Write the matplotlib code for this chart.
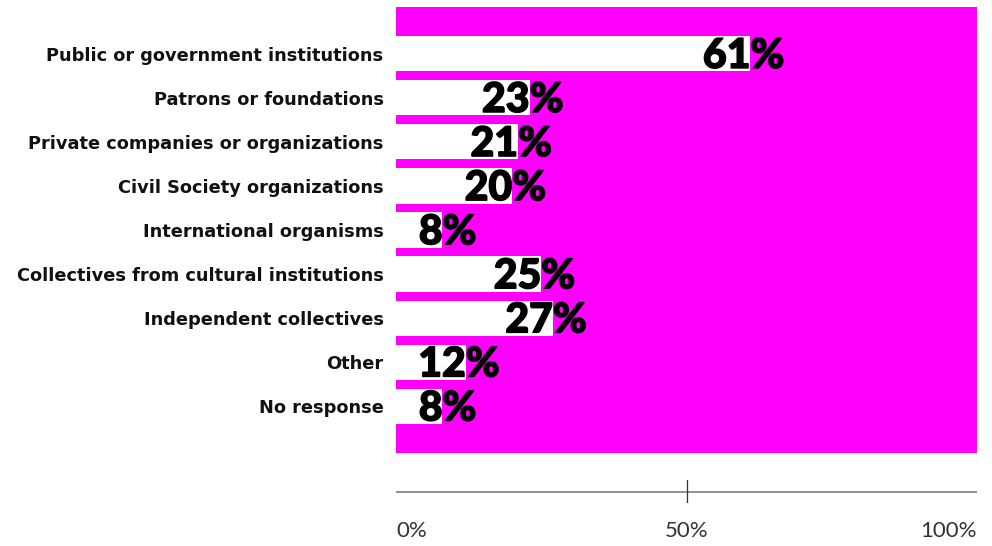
import matplotlib.pyplot as plt
import matplotlib.patheffects as pe
import numpy as np

categories = ['Public or government institutions', 'Patrons or foundations',
              'Private companies or organizations', 'Civil Society organizations',
              'International organisms', 'Collectives from cultural institutions',
              'Independent collectives', 'Other', 'No response']
values = [61, 23, 21, 20, 8, 25, 27, 12, 8]
tick_values = [0, 50, 100]
tick_labels = ['0%', '50%', '100%']

W, H = 992, 546
fig = plt.figure(figsize=(W / 100, H / 100), dpi=100)

# main panel: magenta background, white bars
ax = fig.add_axes([396 / W, (H - 453) / H, (977 - 396) / W, (453 - 7) / H])
ax.set_facecolor('#ff00ff')
y = np.arange(len(categories))
ax.barh(y, values, height=0.8, color='white', linewidth=0)
ax.set_xlim(0, 100)
ax.set_ylim(len(categories) - 1 + 1.06, -1.06)
for s in ax.spines.values():
    s.set_visible(False)
ax.set_xticks([])
ax.set_yticks(y)
ax.set_yticklabels(categories, fontsize=12.8, fontweight='bold', family='DejaVu Sans',
                   color='#111111')
ax.tick_params(axis='y', length=0, pad=9)

heavy = [pe.withStroke(linewidth=1.1, foreground='black')]
for yi, v in zip(y, values):
    ax.text(v, yi + 0.05, str(v), ha='right', va='center', fontsize=29.5,
            fontweight='black', family='Lato', color='black', path_effects=heavy)
    ax.text(v, yi + 0.05, '%', ha='left', va='center', fontsize=29.5,
            fontweight='black', family='Lato', color='black', path_effects=heavy)

# separate scale axis underneath
ax2 = fig.add_axes([396 / W, (H - 503) / H, (977 - 396) / W, (503 - 480) / H])
ax2.set_xlim(0, 100)
ax2.set_ylim(0, 1)
ax2.axis('off')
ax2.axhline(0.5, color='#888888', lw=1.3)
ax2.plot([50, 50], [0, 1], color='#333333', lw=0.9)
for tv, tl, ha in zip(tick_values, tick_labels, ['left', 'center', 'right']):
    ax2.text(tv, -1.2, tl, ha=ha, va='center', fontsize=16, fontweight='normal',
             family='Lato', color='#333333')

fig.savefig('out.png', dpi=100)
